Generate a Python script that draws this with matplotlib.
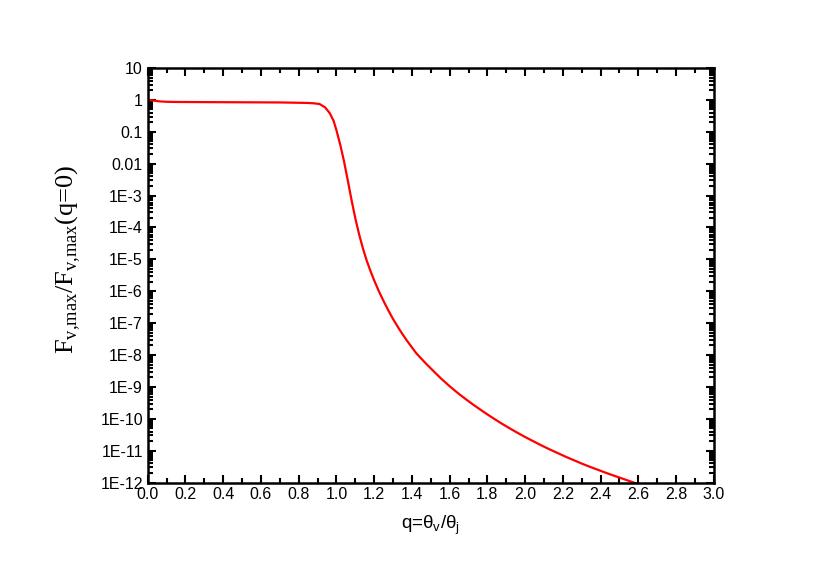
import matplotlib
matplotlib.use('Agg')
import matplotlib.pyplot as plt
from matplotlib.ticker import LogLocator, MultipleLocator, NullFormatter

# curve (q, F/F(q=0))
q = [0.0, 0.03, 0.06, 0.1, 0.15, 0.3, 0.5, 0.7, 0.805, 0.85, 0.88, 0.911, 0.94,
     0.965, 0.985, 1.0, 1.02, 1.04, 1.06, 1.08, 1.10, 1.12, 1.14, 1.16, 1.18, 1.20,
     1.225, 1.25, 1.275, 1.30, 1.335, 1.37, 1.40, 1.424, 1.47, 1.512, 1.555, 1.60,
     1.645, 1.689, 1.733, 1.777, 1.82, 1.865, 1.91, 1.954, 2.0, 2.042, 2.085, 2.13,
     2.175, 2.219, 2.263, 2.307, 2.35, 2.395, 2.44, 2.484, 2.528, 2.572, 2.62]
flux = [1.0, 0.95, 0.9, 0.87, 0.86, 0.85, 0.84, 0.83, 0.81, 0.8, 0.78, 0.74, 0.58,
        0.38, 0.22, 0.112, 0.0398, 0.012, 3.02e-3, 7.24e-4, 1.95e-4, 6.17e-5, 2.24e-5,
        9.33e-6, 4.37e-6, 2.19e-6, 1.0e-6, 4.9e-7, 2.51e-7, 1.35e-7, 6.17e-8, 3.02e-8,
        1.74e-8, 1.12e-8, 5.75e-9, 3.24e-9, 1.82e-9, 1.05e-9, 6.31e-10, 3.98e-10,
        2.57e-10, 1.70e-10, 1.15e-10, 7.76e-11, 5.37e-11, 3.80e-11, 2.69e-11, 2.0e-11,
        1.48e-11, 1.10e-11, 8.32e-12, 6.31e-12, 4.90e-12, 3.80e-12, 3.02e-12, 2.40e-12,
        1.91e-12, 1.55e-12, 1.26e-12, 1.02e-12, 8.1e-13]

yticks = [10, 1, 0.1, 0.01, 1e-3, 1e-4, 1e-5, 1e-6, 1e-7, 1e-8, 1e-9, 1e-10, 1e-11, 1e-12]
ylabels = ['10', '1', '0.1', '0.01', '1E-3', '1E-4', '1E-5', '1E-6', '1E-7', '1E-8',
           '1E-9', '1E-10', '1E-11', '1E-12']

plt.rcParams['font.family'] = ['Liberation Sans', 'DejaVu Sans']

fig = plt.figure(figsize=(8.3, 5.79), dpi=100)
ax = fig.add_axes([0.178, 0.1665, 0.682, 0.7161])

ax.plot(q, flux, color='red', lw=1.6)
ax.set_yscale('log')
ax.set_xlim(0, 3.0)
ax.set_ylim(1e-12, 10)

ax.set_yticks(yticks)
ax.set_yticklabels(ylabels)
ax.yaxis.set_minor_locator(LogLocator(base=10, subs=range(2, 10), numticks=50))
ax.yaxis.set_minor_formatter(NullFormatter())

ax.xaxis.set_major_locator(MultipleLocator(0.2))
ax.xaxis.set_minor_locator(MultipleLocator(0.1))
ax.xaxis.set_major_formatter(plt.FormatStrFormatter('%.1f'))

ax.tick_params(which='both', direction='in', top=True, right=True, width=1.5, labelsize=11.5)
ax.tick_params(which='major', length=6)
ax.tick_params(which='minor', length=3.5)
for s in ax.spines.values():
    s.set_linewidth(1.8)

ax.set_xlabel('q=θ$_\\mathregular{v}$/θ$_\\mathregular{j}$', fontsize=13.5, labelpad=8)
ax.set_ylabel('F$_\\mathregular{v{,}max}$/F$_\\mathregular{v{,}max}$(q=0)', fontsize=19,
              family=['Liberation Serif', 'DejaVu Serif'])
ax.yaxis.set_label_coords(-0.115, 0.54)

fig.savefig('out.png', dpi=100)
